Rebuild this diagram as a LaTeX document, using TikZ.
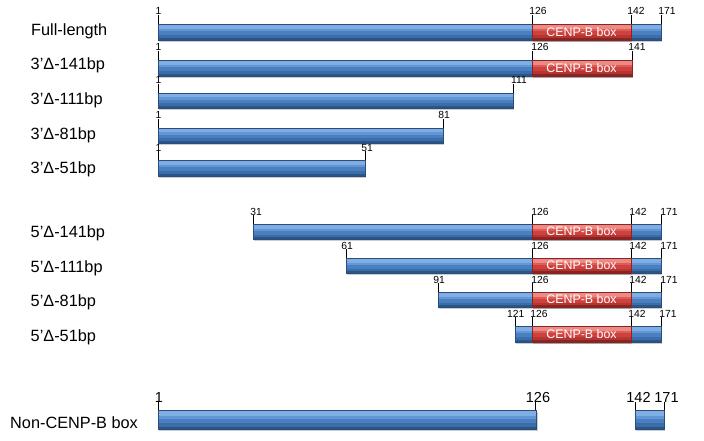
\documentclass[tikz,border=0pt]{standalone}
\usepackage{fontspec}
\setmainfont{Liberation Sans}
\usetikzlibrary{shadows}
\definecolor{bA}{HTML}{2C5587}
\definecolor{bB}{HTML}{3B6DAA}
\definecolor{bC}{HTML}{4A7FC0}
\definecolor{bD}{HTML}{6396D4}
\definecolor{bE}{HTML}{80AEE4}
\definecolor{bO}{HTML}{2A4E7C}
\definecolor{rA}{HTML}{8A2422}
\definecolor{rB}{HTML}{B33633}
\definecolor{rC}{HTML}{D0413D}
\definecolor{rD}{HTML}{DE5C57}
\definecolor{rE}{HTML}{EC8A85}
\definecolor{rO}{HTML}{8A2422}
\tikzset{
  shadowed/.style={drop shadow={shadow xshift=1pt, shadow yshift=-2pt, fill=black, opacity=0.2}},
  rowlab/.style={anchor=base west, inner sep=0pt, font=\fontsize{16.3}{19}\selectfont},
  tlab/.style={anchor=base, inner sep=0pt, font=\fontsize{10.3}{12}\selectfont},
  biglab/.style={anchor=base, inner sep=0pt, font=\fontsize{14.5}{16}\selectfont},
  boxtxt/.style={inner sep=0pt, text=white, font=\fontsize{12.4}{14}\selectfont},
  tickln/.style={draw=black, line width=0.6pt}
}
% \layered{x1}{x2}{ytop}{ybottom}{colour prefix b or r}
\newcommand\layered[5]{%
  \path[shadowed, fill=#5C] (#1,#3) rectangle (#2,#4);
  \fill[#5E] (#1,{#3+0.07*(#4-#3)}) rectangle (#2,{#3+0.30*(#4-#3)});
  \fill[#5D] (#1,{#3+0.30*(#4-#3)}) rectangle (#2,{#3+0.45*(#4-#3)});
  \fill[#5B] (#1,{#3+0.70*(#4-#3)}) rectangle (#2,{#3+0.88*(#4-#3)});
  \fill[#5A] (#1,{#3+0.88*(#4-#3)}) rectangle (#2,#4);
  \draw[#5O, line width=0.4pt] (#1,#3) rectangle (#2,#4);}
\newcommand\bbar[4]{\layered{#1}{#2}{#3}{#4}{b}}
% \rbox{ytop}{ybottom}{x2}
\newcommand\rbox[3]{\layered{532}{#3}{#1}{#2}{r}
  \node[boxtxt] at (581.5,{(#1+#2)/2}) {CENP-B box};}
% \tk{tickx}{bartop}{labelx}{text}
\newcommand\tk[4]{\draw[tickln] (#1,#2) -- (#1,#2-9); \node[tlab] at (#3,#2-9) {#4};}
\newcommand\tkb[4]{\draw[tickln] (#1,#2) -- (#1,#2-8); \node[biglab] at (#3,#2-8) {#4};}
\begin{document}
\begin{tikzpicture}[x=1pt,y=-1pt]
\path[use as bounding box, fill=white] (0,0) rectangle (704,441);
% row labels
\node[rowlab] (l1) at (31,36) {Full-length};
\node[rowlab] (l2) at (30.5,70) {3’Δ-141bp};
\node[rowlab] (l3) at (30.5,105) {3’Δ-111bp};
\node[rowlab] (l4) at (30.5,139.5) {3’Δ-81bp};
\node[rowlab] (l5) at (30.5,173) {3’Δ-51bp};
\node[rowlab] (l6) at (30.5,237.7) {5’Δ-141bp};
\node[rowlab] (l7) at (30.5,272) {5’Δ-111bp};
\node[rowlab] (l8) at (30.5,306.7) {5’Δ-81bp};
\node[rowlab] (l9) at (30.5,341.7) {5’Δ-51bp};
\node[rowlab] (l10) at (10,428) {Non-CENP-B box};
% row 1
\bbar{158}{661}{24}{40} \rbox{24}{40}{631}
\tk{158}{24}{158.5}{1} \tk{532}{24}{538}{126} \tk{631}{24}{636}{142} \tk{661}{24}{667}{171}
% row 2
\bbar{158}{632}{60}{76} \rbox{60}{76}{632}
\tk{158}{60}{158.5}{1} \tk{532}{60}{540}{126} \tk{632}{60}{637}{141}
% row 3
\bbar{158}{513}{93}{108}
\tk{158}{93}{158.5}{1} \tk{513}{93}{519}{111}
% row 4
\bbar{158}{443}{128}{143}
\tk{158}{128}{158.5}{1} \tk{443}{128}{444}{81}
% row 5
\bbar{158}{365}{160}{176}
\tk{158}{160}{158.5}{1} \tk{365}{160}{367}{51}
% row 6
\bbar{253}{661}{224}{239} \rbox{224}{239}{631}
\tk{253}{224}{256}{31} \tk{532}{224}{540}{126} \tk{631}{224}{638}{142} \tk{661}{224}{669}{171}
% row 7
\bbar{346}{661}{258}{273} \rbox{258}{273}{631}
\tk{346}{258}{347}{61} \tk{532}{258}{540}{126} \tk{631}{258}{638}{142} \tk{661}{258}{669}{171}
% row 8
\bbar{438}{661}{292}{307} \rbox{292}{307}{631}
\tk{438}{292}{439}{91} \tk{532}{292}{540}{126} \tk{631}{292}{638}{142} \tk{661}{292}{669}{171}
% row 9
\bbar{515}{661}{326}{342} \rbox{326}{342}{631}
\tk{515}{326}{515.7}{121} \tk{532}{326}{539}{126} \tk{631}{326}{637}{142} \tk{661}{326}{668}{171}
% row 10
\bbar{158}{536.5}{410}{429} \bbar{635}{664}{410}{429}
\tkb{158.3}{410}{159}{1} \tkb{535.7}{410}{538}{126} \tkb{635.7}{410}{638.5}{142} \tkb{664}{410}{666.5}{171}
\end{tikzpicture}
\end{document}
